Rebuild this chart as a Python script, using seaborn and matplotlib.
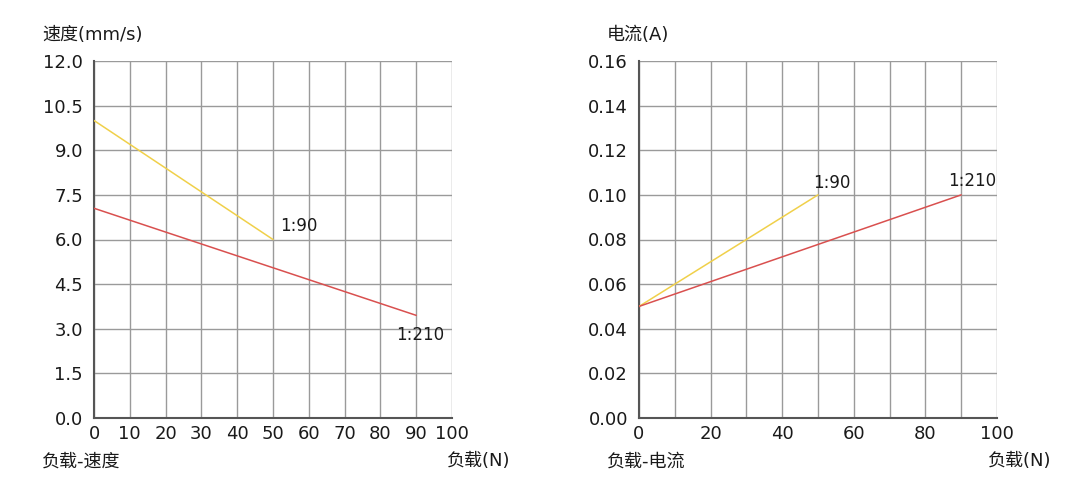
import matplotlib
matplotlib.use("Agg")
import matplotlib.pyplot as plt
import seaborn as sns
import pandas as pd
from matplotlib.ticker import MultipleLocator

# ---- data ----
load_90 = [0, 50]
speed_90 = [10.0, 6.0]
load_210 = [0, 90]
speed_210 = [7.05, 3.45]

cur_load_90 = [0, 50]
current_90 = [0.05, 0.10]
cur_load_210 = [0, 90]
current_210 = [0.05, 0.10]

ratio_labels = ["1:90", "1:210"]
speed_yticks = [0.0, 1.5, 3.0, 4.5, 6.0, 7.5, 9.0, 10.5, 12.0]
speed_xticks = [0, 10, 20, 30, 40, 50, 60, 70, 80, 90, 100]
current_yticks = [0.00, 0.02, 0.04, 0.06, 0.08, 0.10, 0.12, 0.14, 0.16]
current_xticks = [0, 20, 40, 60, 80, 100]

sns.set_style("white")
FONT = ["DejaVu Sans", "Noto Sans CJK SC"]
plt.rcParams["font.family"] = FONT

YELLOW = "#f0d04a"
RED = "#d9504f"
GRID = "#9a9a9a"
SPINE = "#555555"
TXT = "#1a1a1a"

df_speed = pd.DataFrame({
    "load": load_90 + load_210,
    "val": speed_90 + speed_210,
    "ratio": [ratio_labels[0]] * len(load_90) + [ratio_labels[1]] * len(load_210),
})
df_cur = pd.DataFrame({
    "load": cur_load_90 + cur_load_210,
    "val": current_90 + current_210,
    "ratio": [ratio_labels[0]] * len(cur_load_90) + [ratio_labels[1]] * len(cur_load_210),
})

fig = plt.figure(figsize=(10.85, 4.91), dpi=100)
ax1 = fig.add_axes([94 / 1085, 1 - 418 / 491, 358 / 1085, 357 / 491])
ax2 = fig.add_axes([639 / 1085, 1 - 418 / 491, 358 / 1085, 357 / 491])

pal = {ratio_labels[0]: YELLOW, ratio_labels[1]: RED}

sns.lineplot(data=df_speed, x="load", y="val", hue="ratio", palette=pal,
             ax=ax1, legend=False, linewidth=1.1, zorder=3)
sns.lineplot(data=df_cur, x="load", y="val", hue="ratio", palette=pal,
             ax=ax2, legend=False, linewidth=1.1, zorder=3)


def style(ax, xticks, yticks, ylim, fmt):
    ax.set_xlim(0, 100)
    ax.set_ylim(*ylim)
    ax.set_xticks(xticks)
    ax.set_xticklabels([str(t) for t in xticks])
    ax.set_yticks(yticks)
    ax.set_yticklabels([fmt.format(t) for t in yticks])
    ax.xaxis.set_minor_locator(MultipleLocator(10))
    ax.grid(True, which="both", axis="x", color=GRID, linewidth=1.0, zorder=0)
    ax.grid(True, which="major", axis="y", color=GRID, linewidth=1.0, zorder=0)
    ax.set_axisbelow(True)
    for s in ["top", "right"]:
        ax.spines[s].set_visible(False)
    for s in ["left", "bottom"]:
        ax.spines[s].set_color(SPINE)
        ax.spines[s].set_linewidth(1.5)
    ax.tick_params(axis="both", which="both", direction="in", length=6,
                   width=1.3, color=SPINE, labelsize=13, labelcolor=TXT)
    ax.tick_params(axis="y", pad=8)
    ax.tick_params(axis="x", pad=5)
    ax.set_xlabel("")
    ax.set_ylabel("")


style(ax1, speed_xticks, speed_yticks, (0, 12.0), "{:.1f}")
style(ax2, current_xticks, current_yticks, (0, 0.16), "{:.2f}")

# annotations
ax1.text(52, 6.45, ratio_labels[0], fontsize=12, color=TXT, va="center", ha="left")
ax1.text(84.5, 2.8, ratio_labels[1], fontsize=12, color=TXT, va="center", ha="left")
ax2.text(48.6, 0.1055, ratio_labels[0], fontsize=12, color=TXT, va="center", ha="left")
ax2.text(86.3, 0.106, ratio_labels[1], fontsize=12, color=TXT, va="center", ha="left")

# figure labels
def ftext(xpx, ypx, s):
    fig.text(xpx / 1085, 1 - ypx / 491, s, fontsize=13, color=TXT,
             ha="left", va="center", fontweight="medium")

ftext(42, 35, "速度(mm/s)")
ftext(42, 462, "负载-速度")
ftext(447, 461, "负载(N)")
ftext(607, 35, "电流(A)")
ftext(607, 462, "负载-电流")
ftext(988, 461, "负载(N)")

fig.savefig("out.png", dpi=100, facecolor="white")
